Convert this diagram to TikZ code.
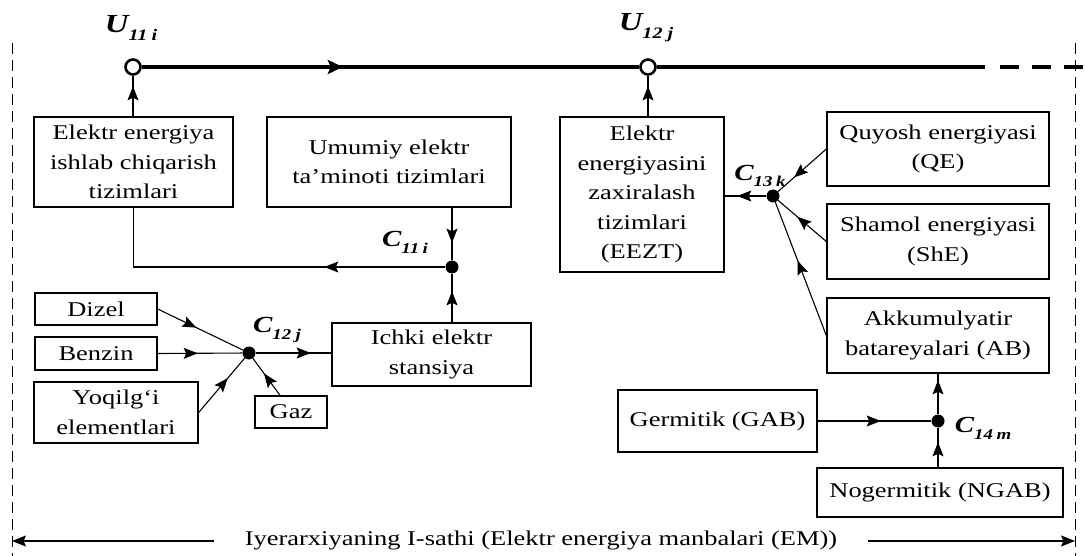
\documentclass[tikz,border=0pt]{standalone}
\usepackage{fontspec}
\setmainfont{Liberation Serif}[FakeStretch=1.26]
\usetikzlibrary{arrows.meta,decorations.markings,calc}

% bold italic variable with a bold italic index
\newcommand{\sublab}[4]{{\bfseries\itshape\fontsize{#3}{#3}\selectfont #1\raisebox{-0.3em}{\fontsize{#4}{#4}\selectfont #2}}}

\begin{document}
\begin{tikzpicture}[x=1pt,y=-1pt,
  box/.style={draw, line width=1.4pt, align=center, inner sep=0pt,
              font=\fontsize{21}{29.5}\selectfont},
  conn/.style={line width=1.1pt},
  tipat/.style={postaction={decorate}, decoration={markings,
      mark=at position #1 with {\arrow{Stealth[length=14pt,width=11pt,inset=2.5pt]}}}},
  bustipat/.style={postaction={decorate}, decoration={markings,
      mark=at position #1 with {\arrow{Stealth[length=15pt,width=14pt,inset=3pt]}}}},
  jdot/.style={circle, fill=black, inner sep=0pt, minimum size=13pt},
  port/.style={circle, draw, fill=white, line width=2.6pt, inner sep=0pt, minimum size=15pt},
  bus/.style={line width=4pt},
  border/.style={line width=1pt, dash pattern=on 11pt off 6pt},
  lab/.style={inner sep=0pt}
]
\useasboundingbox (0,0) rectangle (1085,556);

% level borders
\draw[border] (12,43) -- (12,556);
\draw[border] (1075,43) -- (1075,556);

% bus nodes
\node[port] (u11) at (133,67) {};
\node[port] (u12) at (648,67) {};
\node[lab] (lu11) at (131,28) {\sublab{U}{11\hspace{4pt}i}{26}{16}};
\node[lab] (lu12) at (646,28) {\sublab{U}{12\hspace{5pt}j}{26}{16}};
\coordinate (busend) at (985,67);
\coordinate (busdash) at (1000,67);
\coordinate (busout) at (1085,67);

% blocks
\node[box, minimum width=199pt, minimum height=90pt] (gen) at (133.5,162)
  {Elektr energiya\\ishlab chiqarish\\tizimlari};
\node[box, minimum width=244pt, minimum height=90pt] (umum) at (389,162)
  {Umumiy elektr\\ta’minoti tizimlari};
\node[box, minimum width=164pt, minimum height=155pt] (eezt) at (642,194.5)
  {Elektr\\energiyasini\\zaxiralash\\tizimlari\\(EEZT)};
\node[box, minimum width=222pt, minimum height=74pt] (qe) at (938,149)
  {Quyosh energiyasi\\(QE)};
\node[box, minimum width=222pt, minimum height=75pt] (she) at (938,241.5)
  {Shamol energiyasi\\(ShE)};
\node[box, minimum width=222pt, minimum height=75pt] (ab) at (938,335.5)
  {Akkumulyatir\\batareyalari (AB)};
\node[box, minimum width=199pt, minimum height=62pt] (gab) at (717.5,421)
  {Germitik (GAB)};
\node[box, minimum width=246pt, minimum height=49pt] (ngab) at (940,492.5)
  {Nogermitik (NGAB)};
\node[box, minimum width=122pt, minimum height=32pt] (dizel) at (96,309) {Dizel};
\node[box, minimum width=122pt, minimum height=33pt] (benzin) at (96,353.5) {Benzin};
\node[box, minimum width=164pt, minimum height=61pt] (yoq) at (116,412.5)
  {Yoqilg‘i\\elementlari};
\node[box, minimum width=72pt, minimum height=32pt] (gaz) at (291,412) {Gaz};
\node[box, minimum width=199pt, minimum height=63pt] (ichki) at (431.5,354.5)
  {Ichki elektr\\stansiya};

% junctions
\node[jdot] (c11) at (452,267) {};
\node[jdot] (c12) at (249,353) {};
\node[jdot] (c13) at (773,196) {};
\node[jdot] (c14) at (938,421) {};
\node[lab] (lc11) at (405,242) {\sublab{C}{11\hspace{3.5pt}i}{23}{15}};
\node[lab] (lc12) at (277,330) {\sublab{C}{12\hspace{4.5pt}j}{23}{15}};
\node[lab] (lc13) at (760,176) {\sublab{C}{13\hspace{3.5pt}k}{23}{15}};
\node[lab] (lc14) at (983,428) {\sublab{C}{14\hspace{3.5pt}m}{23}{15}};

% bus
\draw[bus, bustipat=201pt] (u11) -- (u12);
\draw[bus] (u12) -- (busend);
\draw[bus, dash pattern=on 19pt off 13pt] (busdash) -- (busout);

% feeds to the bus
\draw[conn, tipat=30pt] (gen.north -| u11) -- (u11);
\draw[conn, tipat=30pt] (eezt.north -| u12) -- (u12);

% C11 junction
\draw[conn, tipat=35pt] (umum.south -| c11) -- (c11);
\draw[conn, tipat=31pt] (ichki.north -| c11) -- (c11);
\draw[conn, tipat=121pt] (c11) -- (gen.south |- c11) -- (gen.south);

% C12 junction
\coordinate (gazout) at ($(gaz.north west)!0.35!(gaz.north east)$);
\draw[conn, tipat=43pt] (dizel.east) -- (c12);
\draw[conn, tipat=40pt] (benzin.east) -- (c12);
\draw[conn, tipat=45pt] (yoq.east) -- (c12);
\draw[conn, tipat=27pt] (gazout) -- (c12);
\draw[conn, tipat=55pt] (c12) -- (c12 -| ichki.west);

% C13 junction
\draw[conn, tipat=29pt] (c13) -- (c13 -| eezt.east);
\draw[conn, tipat=43pt] (qe.west) -- (c13);
\draw[conn, tipat=38pt] (she.west) -- (c13);
\draw[conn, tipat=80pt] (ab.west) -- (c13);

% C14 junction
\draw[conn, tipat=63pt] (gab.east) -- (c14);
\draw[conn, tipat=25pt] (ngab.north -| c14) -- (c14);
\draw[conn, tipat=34pt] (c14) -- (ab.south);

% level span
\node[inner xsep=31pt, inner ysep=0pt, font=\fontsize{21}{24}\selectfont] (lvl) at (541,540)
  {Iyerarxiyaning I-sathi (Elektr energiya manbalari (EM))};
\coordinate (lvlL) at (12,541);
\coordinate (lvlR) at (1075,541);
\draw[conn, -{Stealth[length=14pt,width=11pt,inset=2.5pt]}] (lvl.west |- lvlL) -- (lvlL);
\draw[conn, -{Stealth[length=14pt,width=11pt,inset=2.5pt]}] (lvl.east |- lvlR) -- (lvlR);
\end{tikzpicture}
\end{document}
